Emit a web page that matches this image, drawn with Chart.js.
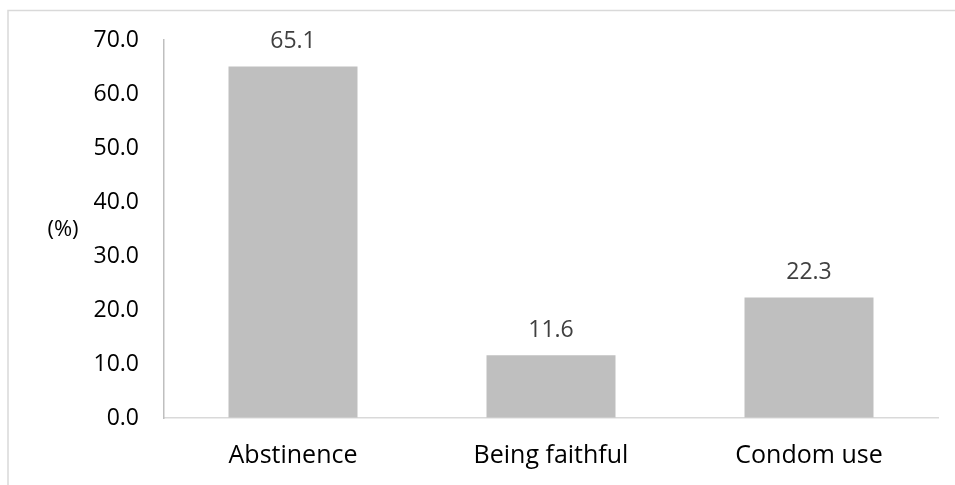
<!DOCTYPE html>
<html>
<head>
<meta charset="utf-8">
<script src="https://cdn.jsdelivr.net/npm/chart.js@4/dist/chart.umd.min.js"></script>
<style>
  html, body { margin: 0; padding: 0; background: #fff; }
  #wrap { width: 955px; height: 485px; position: relative; }
</style>
</head>
<body>
<div id="wrap"><canvas id="c"></canvas></div>
<script>
const categories = ["Abstinence", "Being faithful", "Condom use"];
const percentValues = [65.1, 11.6, 22.3];
const yTickMin = 0;
const yTickMax = 70;
const yTickStep = 10;
const yAxisLabel = "(%)";

const FONT = "'Open Sans', sans-serif";

const framePlugin = {
  id: 'frame',
  beforeDraw(chart) {
    const ctx = chart.ctx;
    ctx.save();
    ctx.strokeStyle = '#d9d9d9';
    ctx.lineWidth = 1.5;
    ctx.beginPath();
    ctx.moveTo(8, 490);
    ctx.lineTo(8, 10.5);
    ctx.lineTo(960, 10.5);
    ctx.stroke();
    ctx.restore();
  }
};

const labelPlugin = {
  id: 'valueLabels',
  afterDatasetsDraw(chart) {
    const ctx = chart.ctx;
    const meta = chart.getDatasetMeta(0);
    ctx.save();
    ctx.font = "23px " + FONT;
    ctx.fillStyle = '#404040';
    ctx.textAlign = 'center';
    ctx.textBaseline = 'middle';
    meta.data.forEach((bar, i) => {
      ctx.fillText(percentValues[i].toFixed(1), bar.x, bar.y - 25);
    });
    const ca = chart.chartArea;
    ctx.fillStyle = '#000000';
    ctx.font = "22px " + FONT;
    ctx.fillText(yAxisLabel, 63, (ca.top + ca.bottom) / 2 + 1);
    ctx.restore();
  }
};

new Chart(document.getElementById('c'), {
  type: 'bar',
  data: {
    labels: categories,
    datasets: [{
      data: percentValues,
      backgroundColor: '#bfbfbf',
      borderWidth: 0,
      barPercentage: 0.5,
      categoryPercentage: 1.0
    }]
  },
  options: {
    responsive: true,
    maintainAspectRatio: false,
    animation: false,
    devicePixelRatio: 1,
    layout: { padding: { top: 40, right: 17, bottom: 0, left: 0 } },
    plugins: {
      legend: { display: false },
      tooltip: { enabled: false }
    },
    scales: {
      x: {
        grid: { display: true, color: 'transparent', drawOnChartArea: false, drawTicks: false },
        border: { display: true, color: '#d9d9d9', width: 1.5 },
        ticks: { color: '#000000', font: { family: FONT, size: 25 }, padding: 23, maxRotation: 0 },
        afterFit(s) { s.height = 67; }
      },
      y: {
        min: yTickMin,
        max: yTickMax,
        grid: { display: true, color: 'transparent', drawOnChartArea: false, drawTicks: false },
        border: { display: true, color: '#bfbfbf', width: 1.5 },
        ticks: {
          stepSize: yTickStep,
          color: '#000000',
          font: { family: FONT, size: 23 },
          padding: 25,
          callback: v => Number(v).toFixed(1)
        },
        afterFit(s) { s.width = 164; }
      }
    }
  },
  plugins: [framePlugin, labelPlugin]
});
</script>
</body>
</html>
